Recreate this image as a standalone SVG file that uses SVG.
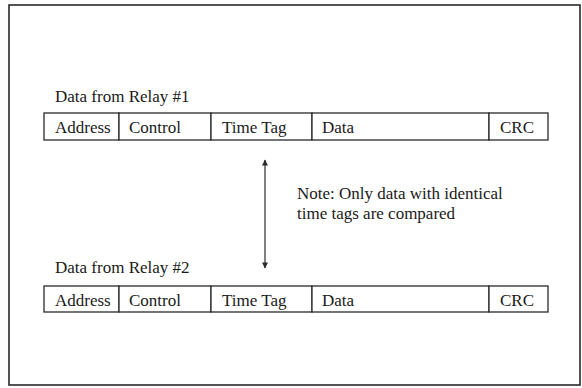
<svg xmlns="http://www.w3.org/2000/svg" width="582" height="388" viewBox="0 0 582 388">
<style>
  .t { font-family: "Liberation Serif", "Times New Roman", serif; font-size: 17px; fill: #1a1a1a; }
  .cell { fill: #ffffff; stroke: #2a2a2a; stroke-width: 1.3; }
  .frame { fill: #ffffff; stroke: #2a2a2a; stroke-width: 1.6; }
  .conn { stroke: #2a2a2a; stroke-width: 1.2; fill: none; }
</style>
<defs>
  <marker id="ah" viewBox="0 0 10 10" refX="9" refY="5" markerWidth="10" markerHeight="6" markerUnits="userSpaceOnUse" orient="auto-start-reverse">
    <path d="M0,0 L10,5 L0,10 Z" fill="#2a2a2a"/>
  </marker>
</defs>
<rect width="582" height="388" fill="#ffffff"/>
<rect id="frame" class="frame" x="9" y="5" width="571" height="380"/>

<g id="relay1">
  <text id="relay1-label" class="t" x="55" y="102">Data from Relay #1</text>
  <g id="r1-address"><rect class="cell" x="44" y="113" width="75" height="27"/><text class="t" x="55" y="133">Address</text></g>
  <g id="r1-control"><rect class="cell" x="119" y="113" width="92" height="27"/><text class="t" x="129" y="133">Control</text></g>
  <g id="r1-timetag"><rect class="cell" x="211" y="113" width="101" height="27"/><text class="t" x="222" y="133">Time Tag</text></g>
  <g id="r1-data"><rect class="cell" x="312" y="113" width="177" height="27"/><text class="t" x="322" y="133">Data</text></g>
  <g id="r1-crc"><rect class="cell" x="489" y="113" width="59" height="27"/><text class="t" x="500" y="133">CRC</text></g>
</g>

<g id="relay2">
  <text id="relay2-label" class="t" x="55" y="273">Data from Relay #2</text>
  <g id="r2-address"><rect class="cell" x="44" y="286" width="75" height="26"/><text class="t" x="55" y="306">Address</text></g>
  <g id="r2-control"><rect class="cell" x="119" y="286" width="92" height="26"/><text class="t" x="129" y="306">Control</text></g>
  <g id="r2-timetag"><rect class="cell" x="211" y="286" width="101" height="26"/><text class="t" x="222" y="306">Time Tag</text></g>
  <g id="r2-data"><rect class="cell" x="312" y="286" width="177" height="26"/><text class="t" x="322" y="306">Data</text></g>
  <g id="r2-crc"><rect class="cell" x="489" y="286" width="59" height="26"/><text class="t" x="500" y="306">CRC</text></g>
</g>

<g id="note">
  <text class="t" x="297" y="199">Note: Only data with identical</text>
  <text class="t" x="297" y="219">time tags are compared</text>
</g>

<g id="connectors">
  <line class="conn" x1="265" y1="160" x2="265" y2="268" marker-start="url(#ah)" marker-end="url(#ah)"/>
</g>
</svg>
